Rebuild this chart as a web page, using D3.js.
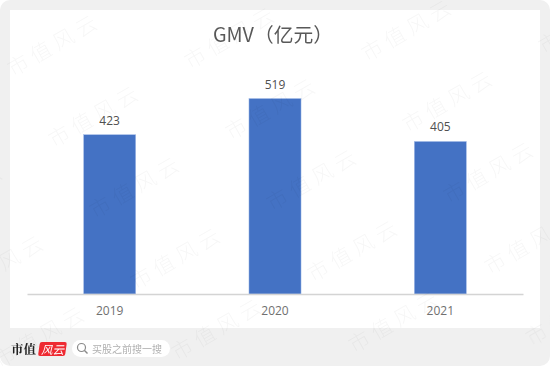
<!DOCTYPE html>
<html>
<head>
<meta charset="utf-8">
<script src="https://cdn.jsdelivr.net/npm/d3@7"></script>
<style>
  html, body { margin: 0; padding: 0; background: #fff; overflow: hidden; }
  svg { display: block; filter: blur(0.3px); }
</style>
</head>
<body>
<div id="chart"></div>
<script>
const years = ['2019', '2020', '2021']
const gmv = [423, 519, 405]
const chart_title = 'GMV（亿元）'
const watermark_text = '市值风云'
const logo_text = '市值'
const logo_badge_text = '风云'
const search_text = '买股之前搜一搜'

const width = 550
const height = 366
const cjk_font = '"Noto Sans CJK SC", "Noto Sans", sans-serif'
const label_font = '"Open Sans", "Noto Sans", sans-serif'

const svg = d3.select('#chart').append('svg')
    .attr('width', width)
    .attr('height', height)

// grey card with the white plot area on it
svg.append('rect')
    .attr('width', width)
    .attr('height', height)
    .attr('rx', 10)
    .attr('fill', '#f0f0f0')

svg.append('rect')
    .attr('x', 10)
    .attr('y', 10)
    .attr('width', 530)
    .attr('height', 318)
    .attr('fill', '#ffffff')

const x = d3.scaleBand()
    .domain(years)
    .range([27, 523])
    .paddingInner(0.685)
    .paddingOuter(0.3425)

const y = d3.scaleLinear()
    .domain([0, 600])
    .range([294, 68])

const bars = svg.selectAll('g.bar')
    .data(years.map((year, i) => ({year, value: gmv[i]})))
    .join('g')
    .attr('class', 'bar')

bars.append('rect')
    .attr('x', d => x(d.year))
    .attr('y', d => y(d.value))
    .attr('width', x.bandwidth())
    .attr('height', d => y(0) - y(d.value))
    .attr('fill', '#4472c4')
    .attr('stroke', '#a9c0ea')
    .attr('stroke-width', 0.5)

bars.append('text')
    .attr('x', d => x(d.year) + x.bandwidth() / 2)
    .attr('y', d => y(d.value) - 10)
    .attr('text-anchor', 'middle')
    .attr('font-family', label_font)
    .attr('font-size', 12)
    .attr('fill', '#505050')
    .text(d => d.value)

const x_axis = svg.append('g')
    .attr('transform', `translate(0,${y(0)})`)
    .call(d3.axisBottom(x).tickSize(0).tickPadding(12.5))

x_axis.select('.domain')
    .attr('stroke', '#d4d4d4')
    .attr('stroke-width', 1.5)

x_axis.selectAll('text')
    .attr('font-family', label_font)
    .attr('font-size', 12)
    .attr('fill', '#707070')

svg.append('text')
    .attr('x', 273)
    .attr('y', 42)
    .attr('text-anchor', 'middle')
    .attr('font-family', cjk_font)
    .attr('font-size', 19.8)
    .attr('fill', '#595959')
    .text(chart_title)

// footer logo
svg.append('text')
    .attr('x', 11)
    .attr('y', 354)
    .attr('font-family', '"Noto Serif CJK SC", "Noto Sans CJK SC", serif')
    .attr('font-weight', 700)
    .attr('font-size', 12.5)
    .attr('fill', '#222222')
    .text(logo_text)

svg.append('rect')
    .attr('x', 39)
    .attr('y', 342)
    .attr('width', 27)
    .attr('height', 14)
    .attr('rx', 2)
    .attr('transform', 'skewX(-8) translate(49,0)')
    .attr('fill', '#ee2a32')

svg.append('text')
    .attr('x', 52.5)
    .attr('y', 353.5)
    .attr('text-anchor', 'middle')
    .attr('font-family', cjk_font)
    .attr('font-style', 'italic')
    .attr('font-size', 11.5)
    .attr('fill', '#ffffff')
    .text(logo_badge_text)

// search pill
svg.append('rect')
    .attr('x', 72)
    .attr('y', 340)
    .attr('width', 98)
    .attr('height', 17)
    .attr('rx', 8.5)
    .attr('fill', '#ffffff')

svg.append('circle')
    .attr('cx', 81.5)
    .attr('cy', 347.5)
    .attr('r', 4)
    .attr('fill', 'none')
    .attr('stroke', '#8a8a8a')
    .attr('stroke-width', 1.2)

svg.append('path')
    .attr('d', d3.line()([[84.5, 350.5], [87.5, 353.5]]))
    .attr('stroke', '#8a8a8a')
    .attr('stroke-width', 1.4)

svg.append('text')
    .attr('x', 92)
    .attr('y', 353)
    .attr('font-family', cjk_font)
    .attr('font-size', 10)
    .attr('fill', '#b0b0b0')
    .text(search_text)

// watermark grid, sits on top of everything, off-canvas cells dropped
const wm_x = ([r, c]) => 13 + 41 * r + 177 * c
const wm_y = ([r, c]) => 77 + 71 * r - 7.5 * c
const watermarks = d3.cross(d3.range(-1, 6), d3.range(-2, 4))
    .filter(d => wm_x(d) > -90 && wm_x(d) < width && wm_y(d) > 0 && wm_y(d) < height + 50)

svg.append('g')
    .selectAll('text')
    .data(watermarks)
    .join('text')
    .attr('transform', d => `translate(${wm_x(d)},${wm_y(d)}) rotate(-30)`)
    .attr('font-family', cjk_font)
    .attr('font-weight', 300)
    .attr('font-size', 21)
    .attr('letter-spacing', 5)
    .attr('fill', '#000000')
    .attr('fill-opacity', 0.035)
    .text(watermark_text)
</script>
</body>
</html>
